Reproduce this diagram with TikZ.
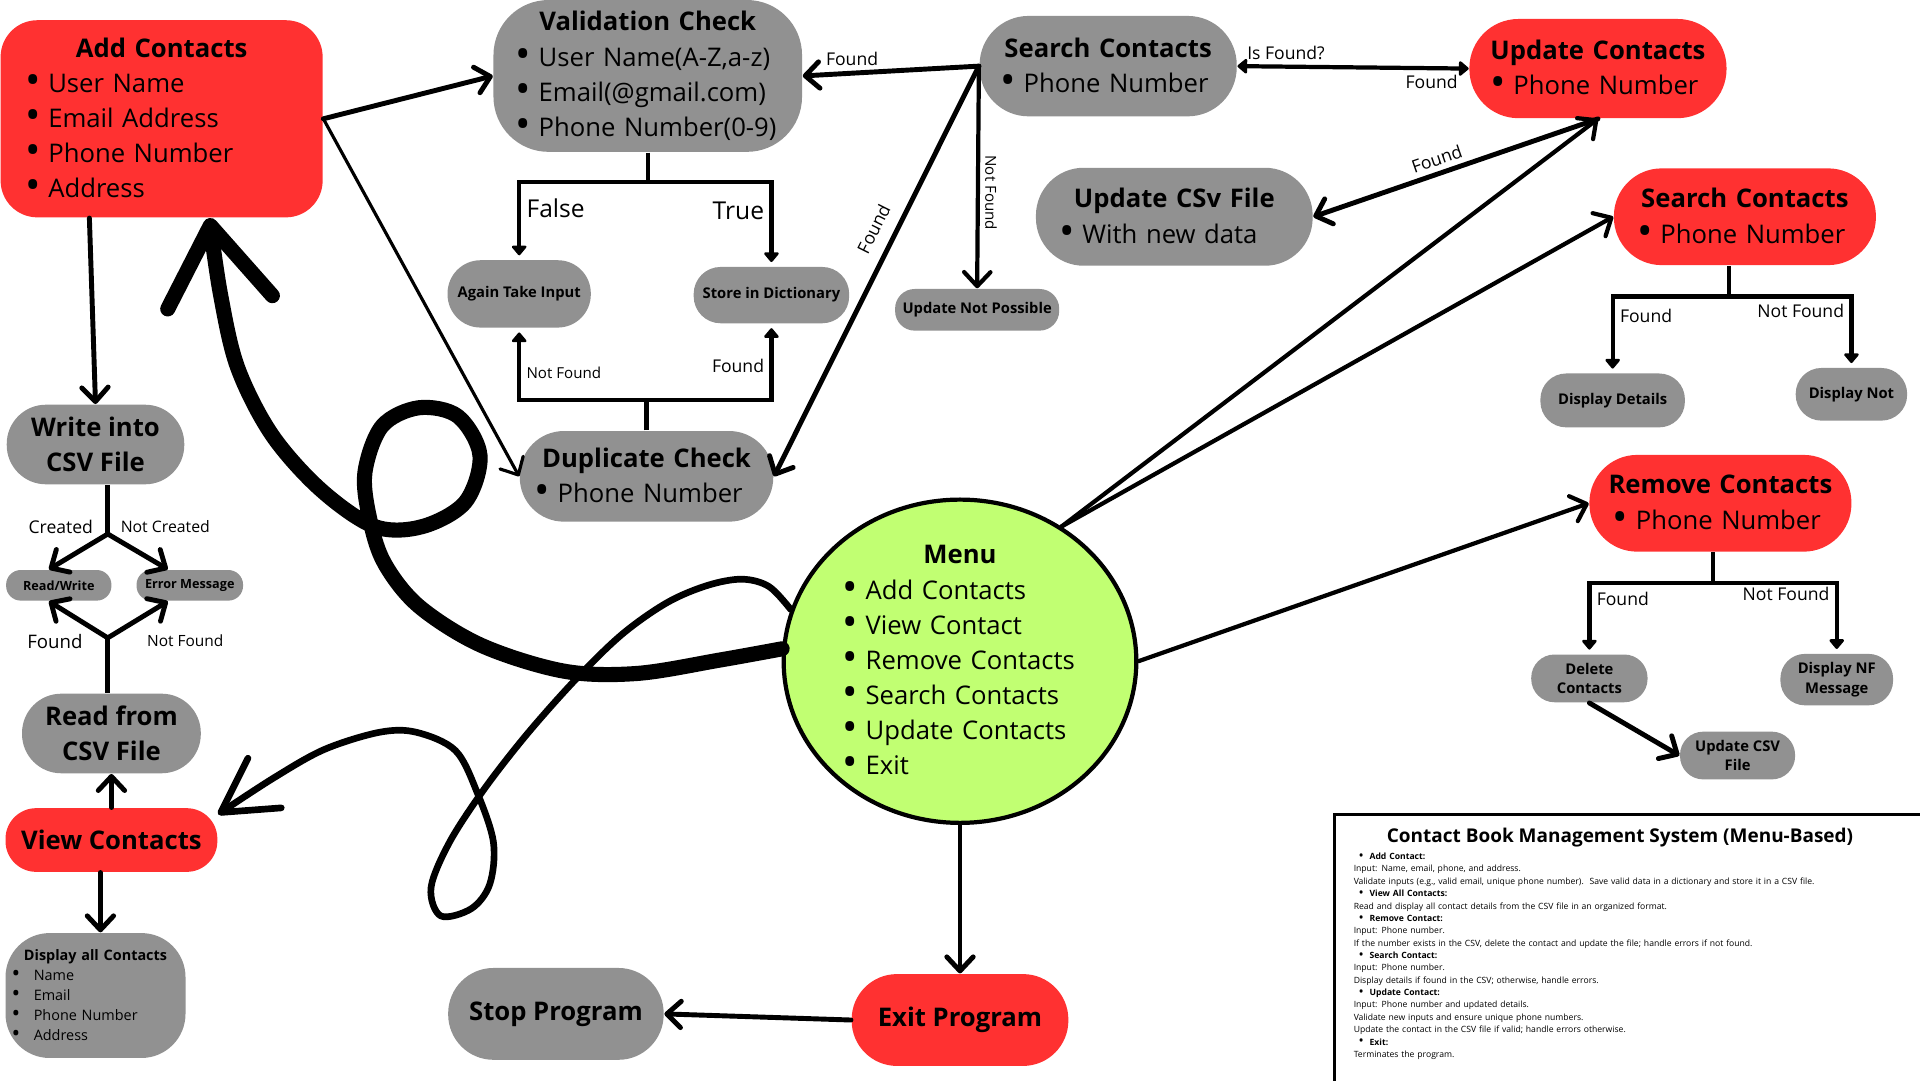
\documentclass[tikz,border=0pt]{standalone}
\usepackage{fontspec}
\usepackage{graphicx}
\setmainfont{Open Sans}
\usetikzlibrary{arrows.meta,shapes.geometric,calc}
\definecolor{boxRed}{HTML}{FF3131}
\definecolor{boxGray}{HTML}{919191}
\definecolor{menuGreen}{HTML}{C1FF72}
\hyphenpenalty=10000
\exhyphenpenalty=10000
\newdimen\pxu \pxu=0.34833pt
\newcommand{\itm}[1][6.6pt]{\makebox[#1][l]{\raisebox{-0.08em}{\scalebox{1.6}{\textbullet}}}}
\newcommand{\ttl}[1]{\noindent\makebox[\hsize]{\bfseries #1}\\}
\tikzset{
  card/.style={rectangle,inner sep=0pt,text=black,align=left,
               font=\fontsize{7.3}{10}\selectfont},
  redcard/.style={card,fill=boxRed},
  graycard/.style={card,fill=boxGray},
  redtitle/.style={redcard,align=center,font=\fontsize{7.3}{10}\selectfont\bfseries},
  graytitle/.style={graycard,align=center,font=\fontsize{7.3}{10}\selectfont\bfseries},
  tag/.style={rectangle,inner sep=0pt,fill=boxGray,align=center,
              font=\fontsize{4.2}{5.6}\selectfont\bfseries},
  flow/.style={line width=1.4pt,line cap=round,-{Straight Barb[length=4pt,width=7.5pt,round]}},
  thinflow/.style={flow,line width=0.9pt},
  fork/.style={line width=1.2pt,-{Triangle[length=3pt,width=4.8pt,round]},shorten >=1.2pt},
  twoway/.style={line width=1.2pt,{Triangle[length=3pt,width=4.8pt,round]}-{Triangle[length=3pt,width=4.8pt,round]}},
  stem/.style={line width=1.2pt},
  lab/.style={font=\fontsize{5}{6}\selectfont,inner sep=1.5pt},
  biglab/.style={font=\fontsize{7}{8}\selectfont,inner sep=1.5pt},
  swoosh/.style={line width=4.3pt,line cap=round,line join=round,
                 -{Straight Barb[length=22pt,width=30pt,round]}},
  squiggle/.style={line width=1.9pt,line cap=round,line join=round,
                 -{Straight Barb[length=15pt,width=17pt,round]}},
}

\begin{document}
\begin{tikzpicture}[x=0.34833pt,y=-0.34833pt]
    \useasboundingbox (0,0) rectangle (1568,882);
    % --- add contacts and its checks ---
    \node[redcard,minimum width=263\pxu,minimum height=161\pxu,text width=223\pxu,rounded corners=30\pxu] (add) at (132,97)
        {\ttl{Add Contacts}\itm User Name\\\itm Email Address\\\itm Phone Number\\\itm Address};
    \node[graycard,minimum width=252\pxu,minimum height=124\pxu,text width=216\pxu,rounded corners=45\pxu] (valid) at (529,62)
        {\ttl{Validation Check}\itm User Name(A-Z,a-z)\\\itm Email(@gmail.com)\\\itm Phone Number(0-9)};
    \node[tag,minimum width=117\pxu,minimum height=55\pxu,rounded corners=27\pxu] (again) at (424,240) {Again Take Input};
    \node[tag,minimum width=127\pxu,minimum height=46\pxu,rounded corners=22\pxu] (store) at (630,241) {Store in Dictionary};
    \node[graycard,minimum width=207\pxu,minimum height=74\pxu,text width=183\pxu,rounded corners=36\pxu] (dup) at (528,389)
        {\ttl{Duplicate Check}\itm Phone Number};
    % --- update branch ---
    \node[graycard,minimum width=210\pxu,minimum height=82\pxu,text width=176\pxu,rounded corners=40\pxu] (searchA) at (905,54)
        {\ttl{Search Contacts}\itm Phone Number};
    \node[redcard,minimum width=210\pxu,minimum height=81\pxu,text width=176\pxu,rounded corners=40\pxu] (update) at (1305,56)
        {\ttl{Update Contacts}\itm Phone Number};
    \node[graycard,minimum width=226\pxu,minimum height=80\pxu,text width=188\pxu,rounded corners=39\pxu] (updcsv) at (959,177)
        {\ttl{Update CSv File}\itm With new data};
    \node[tag,minimum width=134\pxu,minimum height=34\pxu,rounded corners=16\pxu] (notposs) at (798,253) {Update Not Possible};
    % --- search / remove ---
    \node[redcard,minimum width=214\pxu,minimum height=79\pxu,text width=176\pxu,rounded corners=39\pxu] (searchB) at (1425,177)
        {\ttl{Search Contacts}\itm Phone Number};
    \node[tag,minimum width=118\pxu,minimum height=44\pxu,rounded corners=21\pxu] (dispdet) at (1317,327) {Display Details};
    \node[tag,minimum width=91\pxu,minimum height=43\pxu,rounded corners=21\pxu] (dispnot) at (1512,322) {Display Not};
    \node[redcard,minimum width=214\pxu,minimum height=79\pxu,text width=176\pxu,rounded corners=39\pxu] (remove) at (1405,411)
        {\ttl{Remove Contacts}\itm Phone Number};
    \node[tag,minimum width=95\pxu,minimum height=39\pxu,rounded corners=19\pxu] (delete) at (1298,554) {Delete\\Contacts};
    \node[tag,minimum width=92\pxu,minimum height=42\pxu,rounded corners=20\pxu] (dispnf) at (1500,555) {Display NF\\Message};
    \node[tag,minimum width=94\pxu,minimum height=39\pxu,rounded corners=19\pxu] (updcsv2) at (1419,617) {Update CSV\\File};
    % --- csv file side ---
    \node[graytitle,minimum width=145\pxu,minimum height=65\pxu,rounded corners=32\pxu] (write) at (78,363) {Write into\\CSV File};
    \node[tag,font=\fontsize{3.6}{4.5}\selectfont\bfseries,minimum width=86\pxu,minimum height=25\pxu,rounded corners=12\pxu] (rw) at (48,478) {Read/Write};
    \node[tag,font=\fontsize{3.6}{4.5}\selectfont\bfseries,minimum width=87\pxu,minimum height=25\pxu,rounded corners=12\pxu] (err) at (155,478) {Error Message};
    \node[graytitle,minimum width=146\pxu,minimum height=65\pxu,rounded corners=32\pxu] (read) at (91,599) {Read from\\CSV File};
    \node[redtitle,minimum width=173\pxu,minimum height=52\pxu,rounded corners=25\pxu] (view) at (91,686) {View Contacts};
    \node[graycard,font=\fontsize{4.1}{5.7}\selectfont,minimum width=147\pxu,minimum height=102\pxu,text width=137\pxu,rounded corners=36\pxu] (dispall) at (78,813)
        {\ttl{Display all Contacts}\itm[6.3pt]Name\\\itm[6.3pt]Email\\\itm[6.3pt]Phone Number\\\itm[6.3pt]Address};
    % --- menu and exit ---
    \node[ellipse,draw,line width=1.2pt,fill=menuGreen,minimum width=288\pxu,minimum height=264\pxu,
          inner xsep=0pt,inner ysep=-4\pxu,text width=192\pxu,align=left,font=\fontsize{7.3}{10}\selectfont] (menu) at (784,540)
        {\ttl{Menu}\itm Add Contacts\\\itm View Contact\\\itm Remove Contacts\\\itm Search Contacts\\\itm Update Contacts\\\itm Exit};
    \node[redtitle,minimum width=177\pxu,minimum height=75\pxu,rounded corners=37\pxu] (exitp) at (784,833) {Exit Program};
    \node[graytitle,minimum width=176\pxu,minimum height=75\pxu,rounded corners=37\pxu] (stop) at (454,828) {Stop Program};

    % --- connectors ---
    \draw[flow] (add.east) -- (valid.west);
    \draw[thinflow] (add.east) -- (dup.west);
    \draw[flow] ([xshift=-5\pxu]write.north |- add.south) -- (write.north);
    \draw[stem] (valid.south) -- ++(0,24) coordinate (vfork);
    \draw[fork] (vfork) -| node[pos=0.67,right,biglab]{False} (again.north);
    \draw[fork] (vfork) -| node[pos=0.67,left,biglab]{True} (store.north);
    \draw[stem] (dup.north) -- ++(0,-25) coordinate (dfork);
    \draw[fork] (dfork) -| node[pos=0.69,right,lab,font=\fontsize{4.3}{5}\selectfont]{Not Found} (again.south);
    \draw[fork] (dfork) -| node[pos=0.72,left,lab]{Found} (store.south);
    \draw[flow] (searchA.west) -- node[pos=0.72,above,lab]{Found} (valid.east);
    \draw[flow] (searchA.west) -- node[pos=0.42,sloped,above=2pt,lab]{Found} (dup.east);
    \draw[flow,line width=1.2pt] (searchA.west) -- node[pos=0.57,rotate=-90,anchor=south,lab,font=\fontsize{4.3}{5}\selectfont]{Not Found} (notposs.north);
    \draw[twoway] (searchA.east) -- node[pos=0.21,above,lab]{Is Found?} node[pos=0.84,below,lab]{Found} (update.west);
    \draw[flow] (update.south) -- node[pos=0.55,sloped,above,lab]{Found} (updcsv.east);
    \draw[flow,line width=1.2pt] (menu.53) -- (update.south);
    \draw[flow,line width=1.2pt] (menu.53) -- (searchB.west);
    \draw[flow,line width=1.2pt] (menu.east) -- (remove.west);
    \draw[flow] (menu.south) -- (exitp.north);
    \draw[flow] (exitp.west) -- (stop.east);
    \draw[stem] ([xshift=-13\pxu]searchB.south) -- ++(0,25) coordinate (sfork);
    \draw[fork] (sfork) -| node[pos=0.63,right,lab]{Found} (dispdet.north);
    \draw[fork] (sfork) -| node[pos=0.6,left,lab]{Not Found} (dispnot.north);
    \draw[stem] ([xshift=-6\pxu]remove.south) -- ++(0,25) coordinate (rmfork);
    \draw[fork] (rmfork) -| node[pos=0.61,right,lab]{Found} (delete.north);
    \draw[fork] (rmfork) -| node[pos=0.58,left,lab]{Not Found} (dispnf.north);
    \draw[flow] (delete.south) -- (updcsv2.west);
    \draw[stem,line width=1.4pt] ([xshift=10\pxu]write.south) -- node[pos=0.85,left=2pt,lab]{Created}
        node[pos=0.85,right=1.5pt,lab,font=\fontsize{4.5}{5}\selectfont]{Not Created} ++(0,40) coordinate (wfork);
    \draw[flow] (wfork) -- ([xshift=-8\pxu]rw.north);
    \draw[flow] (wfork) -- ([xshift=-18\pxu]err.north);
    \draw[stem,line width=1.4pt] ([xshift=-3\pxu]read.north) -- node[pos=0.94,left=5pt,lab,font=\fontsize{5.3}{6}\selectfont]{Found}
        node[pos=0.94,right=9pt,lab,font=\fontsize{4.4}{5}\selectfont]{Not Found} ++(0,-45) coordinate (rfork);
    \draw[flow] (rfork) -- ([xshift=-8\pxu]rw.south);
    \draw[flow] (rfork) -- ([xshift=-18\pxu]err.south);
    \draw[flow] (view.north) -- (read.south);
    \draw[flow] ([xshift=-9\pxu]view.south) -- ([xshift=4\pxu]dispall.north);
    % --- hand drawn strokes from the menu ---
    \draw[swoosh] plot[smooth,tension=0.55] coordinates {(menu.176) (588,539) (520,550) (460,548) (393,527) (342,495)
        (314,460) (302,424) (298,386) (312,348) (342,333) (374,340) (392,372) (380,410) (345,430) (306,430)
        (262,400) (222,355) (194,300) (180,240) ([xshift=39\pxu]add.south)};
    \draw[squiggle] plot[smooth,tension=0.55] coordinates {(menu.163) (628,479) (606,473) (578,478) (545,492) (508,518)
        (470,555) (430,600) (395,645) (367,688) (352,725) (360,748) (385,742) (400,722) (403,688) (390,648)
        (372,613) (340,598) (310,598) (265,612) (224,635) ([yshift=21\pxu]view.east)};
    % --- notes panel ---
    \draw[line width=0.8pt] (1580,665) -- (1090,665) -- (1090,895);
    \node[font=\fontsize{5.4}{6.5}\selectfont\bfseries] (ptitle) at (1323,684) {Contact Book Management System (Menu-Based)};
    \node[anchor=north west,inner sep=0pt,text width=460\pxu,align=left,font=\fontsize{2.45}{3.52}\selectfont] (notes) at (1105,696)
        {\hspace*{1.4pt}\itm[3.1pt]\textbf{Add Contact:}\\
         Input: Name, email, phone, and address.\\
         Validate inputs (e.g., valid email, unique phone number).\ \ Save valid data in a dictionary and store it in a CSV file.\\
         \hspace*{1.4pt}\itm[3.1pt]\textbf{View All Contacts:}\\
         Read and display all contact details from the CSV file in an organized format.\\
         \hspace*{1.4pt}\itm[3.1pt]\textbf{Remove Contact:}\\
         Input: Phone number.\\
         If the number exists in the CSV, delete the contact and update the file; handle errors if not found.\\
         \hspace*{1.4pt}\itm[3.1pt]\textbf{Search Contact:}\\
         Input: Phone number.\\
         Display details if found in the CSV; otherwise, handle errors.\\
         \hspace*{1.4pt}\itm[3.1pt]\textbf{Update Contact:}\\
         Input: Phone number and updated details.\\
         Validate new inputs and ensure unique phone numbers.\\
         Update the contact in the CSV file if valid; handle errors otherwise.\\
         \hspace*{1.4pt}\itm[3.1pt]\textbf{Exit:}\\
         Terminates the program.};
\end{tikzpicture}
\end{document}
